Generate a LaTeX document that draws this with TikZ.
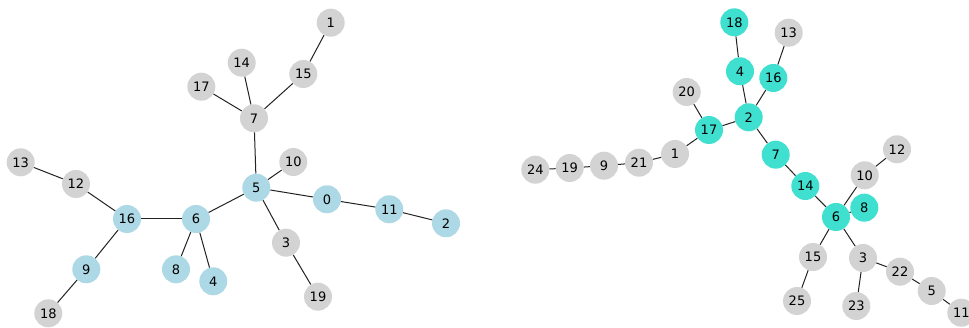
\documentclass[tikz,border=0pt]{standalone}
\usepackage{fontspec}
\setmainfont{DejaVu Sans}
\definecolor{nodeblue}{HTML}{ADD8E6}
\definecolor{nodegrey}{HTML}{D3D3D3}
\definecolor{nodeturq}{HTML}{40E0D0}
\definecolor{edgecol}{HTML}{222222}
\tikzset{
  gnode/.style={circle, inner sep=0pt, minimum size=28pt, font=\fontsize{13}{15}\selectfont, text=black},
  grey/.style={gnode, fill=nodegrey},
  blue/.style={gnode, fill=nodeblue},
  turq/.style={gnode, fill=nodeturq},
  edge/.style={draw=edgecol, line width=1pt}
}
\begin{document}
\begin{tikzpicture}[x=1pt,y=-1pt]
\useasboundingbox (0,0) rectangle (969,328);
\clip (0,0) rectangle (969,328);
% ---------- left graph ----------
\node[grey] (L1) at (330.7,22.7) {1};
\node[grey] (L14) at (241.7,62.7) {14};
\node[grey] (L15) at (303.3,74) {15};
\node[grey] (L17) at (201.3,86.7) {17};
\node[grey] (L7) at (254,118.3) {7};
\node[grey] (L10) at (293.3,162) {10};
\node[grey] (L13) at (20.7,162.3) {13};
\node[grey] (L12) at (76,184) {12};
\node[blue] (L5) at (256.3,187.7) {5};
\node[blue] (L0) at (327,199.3) {0};
\node[blue] (L11) at (389.3,209.3) {11};
\node[blue] (L2) at (446,223.3) {2};
\node[blue] (L16) at (127,219) {16};
\node[blue] (L6) at (196,219) {6};
\node[grey] (L3) at (286,242.7) {3};
\node[blue] (L9) at (86.3,269.3) {9};
\node[blue] (L8) at (176,269.3) {8};
\node[blue] (L4) at (213.3,281.3) {4};
\node[grey] (L19) at (318,296.7) {19};
\node[grey] (L18) at (48.3,313.3) {18};
% ---------- right graph ----------
\node[turq] (R18) at (734.3,22.3) {18};
\node[grey] (R13) at (788.7,32.7) {13};
\node[turq] (R4) at (740,71.3) {4};
\node[turq] (R16) at (773.3,78) {16};
\node[grey] (R20) at (686.7,92) {20};
\node[turq] (R2) at (748.7,117.3) {2};
\node[turq] (R17) at (709,130) {17};
\node[grey] (R1) at (675,154) {1};
\node[turq] (R7) at (775.7,154.7) {7};
\node[grey] (R12) at (897,149.3) {12};
\node[grey] (R24) at (535.3,169.7) {24};
\node[grey] (R19) at (569.7,168) {19};
\node[grey] (R9) at (604,165.7) {9};
\node[grey] (R21) at (639,162.7) {21};
\node[grey] (R10) at (864.7,175.3) {10};
\node[turq] (R14) at (805.3,186) {14};
\node[turq] (R8) at (864.3,207.7) {8};
\node[turq] (R6) at (836,217) {6};
\node[grey] (R15) at (813,257) {15};
\node[grey] (R3) at (863,258) {3};
\node[grey] (R22) at (900,271.7) {22};
\node[grey] (R5) at (931.7,291) {5};
\node[grey] (R25) at (797,301) {25};
\node[grey] (R23) at (856.3,306) {23};
\node[grey] (R11) at (961.3,312.7) {11};
% ---------- edges ----------
\foreach \a/\b in {L1/L15,L15/L7,L14/L7,L17/L7,L7/L5,L5/L10,L5/L0,L0/L11,L11/L2,L5/L6,L5/L3,L3/L19,L6/L16,L6/L8,L6/L4,L16/L12,L12/L13,L16/L9,L9/L18,
  R18/R4,R4/R2,R13/R16,R16/R2,R20/R17,R2/R17,R17/R1,R1/R21,R21/R9,R9/R19,R19/R24,R2/R7,R7/R14,R14/R6,R6/R10,R10/R12,R6/R8,R6/R15,R15/R25,R6/R3,R3/R23,R3/R22,R22/R5,R5/R11}
  \draw[edge] (\a) -- (\b);
\end{tikzpicture}
\end{document}
